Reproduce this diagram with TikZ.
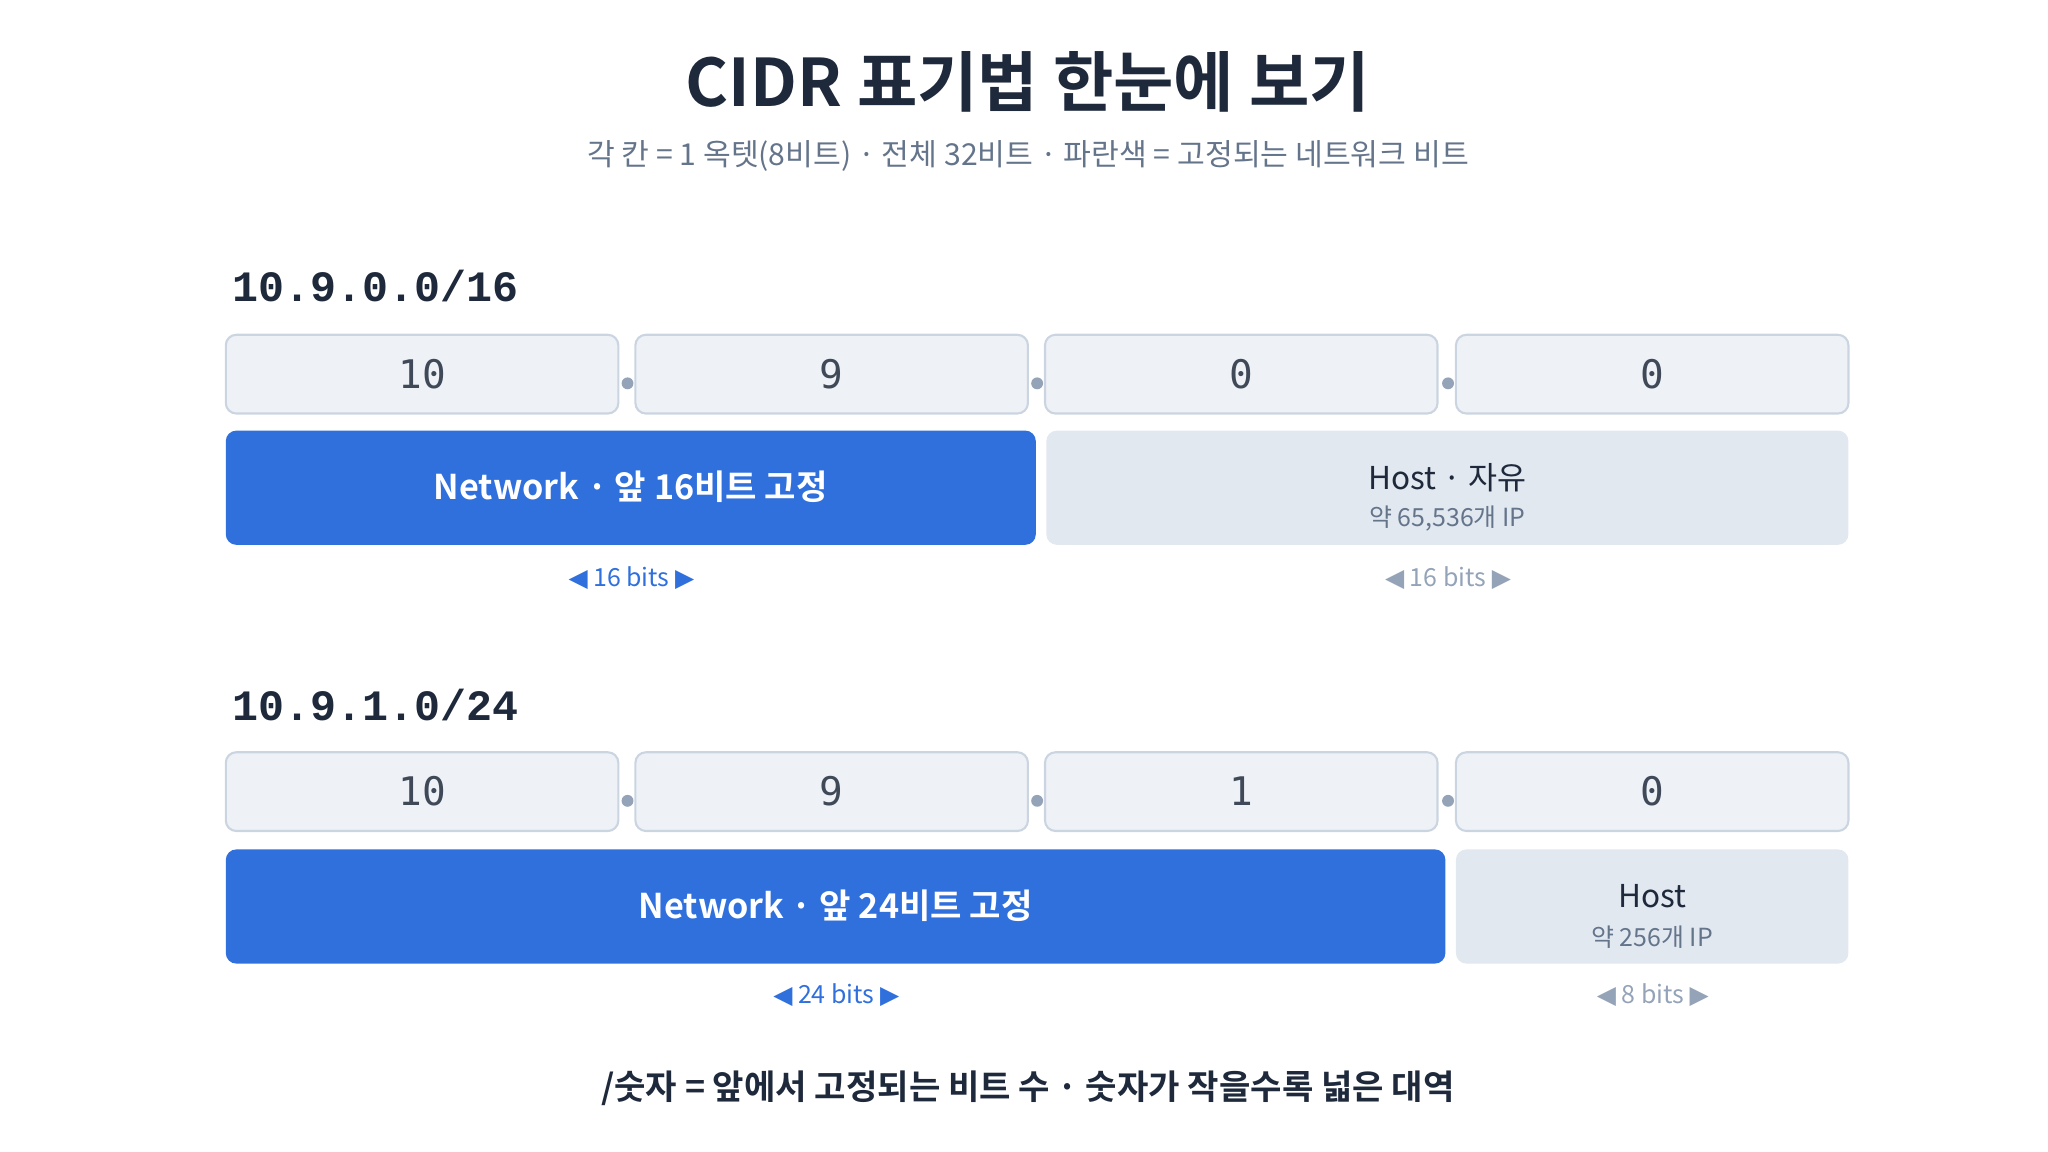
\documentclass[tikz,border=0pt]{standalone}
\usepackage{fontspec}
\setmainfont{Noto Sans CJK KR}
\newfontfamily\kb{Noto Sans CJK KR Bold}
\newfontfamily\monob{Liberation Mono Bold}
\newfontfamily\mono{DejaVu Sans Mono}
\newfontfamily\dv{DejaVu Sans}
\definecolor{ink}{HTML}{1E293B}
\definecolor{sub}{HTML}{64748B}
\definecolor{oct}{HTML}{EEF1F6}
\definecolor{octb}{HTML}{CBD5E1}
\definecolor{blu}{HTML}{3070DD}
\definecolor{hostf}{HTML}{E2E8F0}
\definecolor{gr}{HTML}{94A3B8}
\begin{document}
\begin{tikzpicture}[x=0.5pt,y=-0.5pt,
 octbox/.style={draw=octb,line width=0.8pt,fill=oct,rounded corners=4pt},
 octtxt/.style={font=\mono\fontsize{15}{18}\selectfont,text=ink!85},
 netbar/.style={fill=blu,rounded corners=4pt},
 hostbar/.style={fill=hostf,rounded corners=4pt},
 dotc/.style={fill=gr,circle,inner sep=1.6pt},
 lbl/.style={font=\monob\fontsize{16.5}{20}\selectfont,text=ink,anchor=west}]
\useasboundingbox (0,0) rectangle (1560,877);
\node[font=\kb\fontsize{25}{30}\selectfont,text=ink] (title) at (783,62) {CIDR 표기법 한눈에 보기};
\node[font=\fontsize{11.5}{14}\selectfont,text=sub] (subt) at (783,119) {각 칸 = 1 옥텟(8비트) · 전체 32비트 · 파란색 = 고정되는 네트워크 비트};
% block 1
\node[lbl] (l1) at (170,218) {10.9.0.0/16};
\foreach \i/\a/\v in {1/172/10,2/484/9,3/796/0,4/1109/0}{
 \draw[octbox] (\a,255) rectangle ++(299,60);
 \node[octtxt] (o1\i) at (\a+149.5,285) {\v};}
\foreach \x in {478,790,1103}{\node[dotc] (d1\x) at (\x,292) {};}
\fill[netbar] (172,328) rectangle (789,415);
\node[font=\kb\fontsize{13}{16}\selectfont,text=white] (n1) at (480.5,371) {Network · 앞 16비트 고정};
\fill[hostbar] (797,328) rectangle (1408,415);
\node[font=\fontsize{12}{15}\selectfont,text=ink] (h1) at (1102.5,364) {Host · 자유};
\node[font=\fontsize{9.5}{12}\selectfont,text=sub] (h1b) at (1102.5,395) {약 65,536개 IP};
\node[font=\fontsize{9.5}{12}\selectfont,text=blu] (b1a) at (481,440) {{\dv ◀} 16 bits {\dv ▶}};
\node[font=\fontsize{9.5}{12}\selectfont,text=gr] (b1b) at (1103,440) {{\dv ◀} 16 bits {\dv ▶}};
% block 2
\node[lbl] (l2) at (170,537) {10.9.1.0/24};
\foreach \i/\a/\v in {1/172/10,2/484/9,3/796/1,4/1109/0}{
 \draw[octbox] (\a,573) rectangle ++(299,60);
 \node[octtxt] (o2\i) at (\a+149.5,603) {\v};}
\foreach \x in {478,790,1103}{\node[dotc] (d2\x) at (\x,610) {};}
\fill[netbar] (172,647) rectangle (1101,734);
\node[font=\kb\fontsize{13}{16}\selectfont,text=white] (n2) at (636.5,690) {Network · 앞 24비트 고정};
\fill[hostbar] (1109,647) rectangle (1408,734);
\node[font=\fontsize{12}{15}\selectfont,text=ink] (h2) at (1258.5,683) {Host};
\node[font=\fontsize{9.5}{12}\selectfont,text=sub] (h2b) at (1258.5,714) {약 256개 IP};
\node[font=\fontsize{9.5}{12}\selectfont,text=blu] (b2a) at (637,758) {{\dv ◀} 24 bits {\dv ▶}};
\node[font=\fontsize{9.5}{12}\selectfont,text=gr] (b2b) at (1259,758) {{\dv ◀} 8 bits {\dv ▶}};
\node[font=\kb\fontsize{13}{16}\selectfont,text=ink] (foot) at (783,829) {/숫자 = 앞에서 고정되는 비트 수 · 숫자가 작을수록 넓은 대역};
\end{tikzpicture}
\end{document}
